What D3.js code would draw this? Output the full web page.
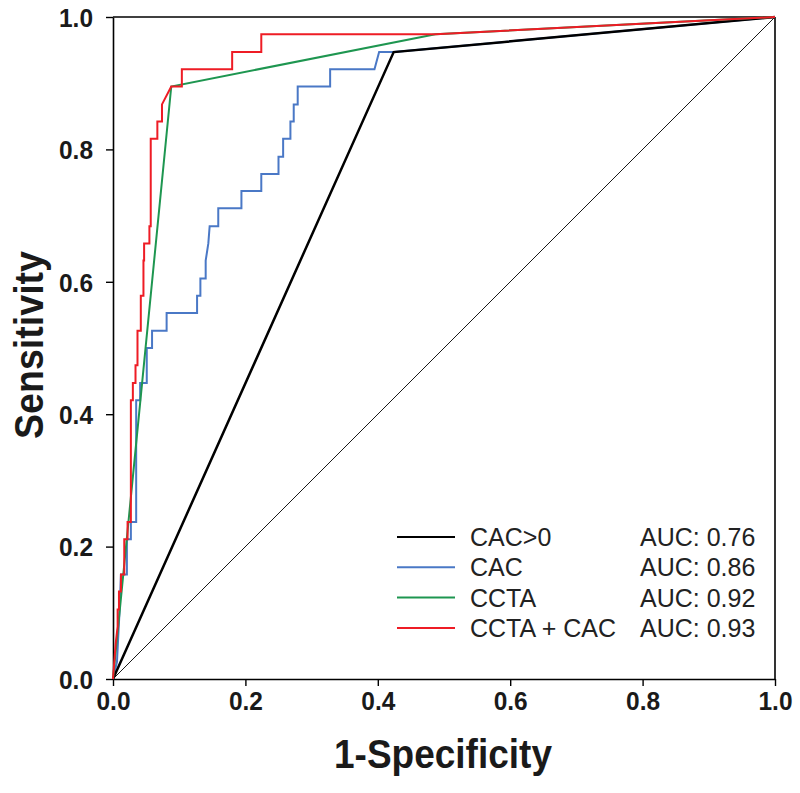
<!DOCTYPE html>
<html><head><meta charset="utf-8">
<script src="https://cdn.jsdelivr.net/npm/d3@7"></script>
<style>body{margin:0;background:#fff}svg{display:block}</style>
</head><body>
<svg id="c" width="800" height="793"></svg>
<script>
const seriesNames = ["CAC>0", "CAC", "CCTA", "CCTA + CAC"];
const aucLabels = ["AUC: 0.76", "AUC: 0.86", "AUC: 0.92", "AUC: 0.93"];
const seriesColors = ["#000000", "#4a78c6", "#1e9650", "#ee1c25"];
const xTicks = [0, 0.2, 0.4, 0.6, 0.8, 1.0];
const yTicks = [0, 0.2, 0.4, 0.6, 0.8, 1.0];

const cac0FPR = [0, 0.424, 1];
const cac0TPR = [0, 0.947, 1];

const cacFPR = [0, 0.006, 0.010, 0.012, 0.021, 0.021, 0.027, 0.027, 0.035, 0.035, 0.041, 0.041, 0.051, 0.051, 0.059, 0.059, 0.081, 0.081, 0.127, 0.127, 0.132, 0.132, 0.140, 0.140, 0.144, 0.146, 0.159, 0.159, 0.194, 0.194, 0.224, 0.224, 0.250, 0.250, 0.257, 0.257, 0.268, 0.268, 0.273, 0.273, 0.279, 0.279, 0.328, 0.328, 0.395, 0.402, 0.424, 1];
const cacTPR = [0, 0.026, 0.105, 0.158, 0.158, 0.211, 0.211, 0.237, 0.237, 0.421, 0.421, 0.447, 0.447, 0.500, 0.500, 0.526, 0.526, 0.553, 0.553, 0.579, 0.579, 0.605, 0.605, 0.632, 0.658, 0.684, 0.684, 0.711, 0.711, 0.737, 0.737, 0.763, 0.763, 0.789, 0.789, 0.816, 0.816, 0.842, 0.842, 0.868, 0.868, 0.895, 0.895, 0.921, 0.921, 0.947, 0.947, 1];

const cctaFPR = [0, 0.088, 0.487, 1];
const cctaTPR = [0, 0.895, 0.974, 1];

const comboFPR = [0, 0.004, 0.007, 0.007, 0.009, 0.009, 0.012, 0.012, 0.017, 0.017, 0.022, 0.022, 0.027, 0.027, 0.030, 0.030, 0.034, 0.034, 0.037, 0.037, 0.042, 0.042, 0.046, 0.046, 0.047, 0.047, 0.055, 0.055, 0.057, 0.057, 0.067, 0.067, 0.074, 0.074, 0.088, 0.104, 0.104, 0.180, 0.180, 0.224, 0.224, 0.487, 1];
const comboTPR = [0, 0.053, 0.079, 0.105, 0.105, 0.132, 0.132, 0.158, 0.158, 0.211, 0.211, 0.237, 0.237, 0.421, 0.421, 0.447, 0.447, 0.474, 0.474, 0.526, 0.526, 0.579, 0.579, 0.632, 0.632, 0.658, 0.658, 0.684, 0.684, 0.816, 0.816, 0.842, 0.842, 0.868, 0.895, 0.895, 0.921, 0.921, 0.947, 0.947, 0.974, 0.974, 1];

const svg = d3.select("#c");
const x = d3.scaleLinear().domain([0, 1]).range([113, 775]);
const y = d3.scaleLinear().domain([0, 1]).range([679, 17]);

// axes
const fmt = d3.format(".1f");
const xAxis = svg.append("g").attr("transform", "translate(0,679)")
  .call(d3.axisBottom(x).tickValues(xTicks).tickFormat(fmt).tickSize(7).tickSizeOuter(0));
const yAxis = svg.append("g").attr("transform", "translate(113,0)")
  .call(d3.axisLeft(y).tickValues(yTicks).tickFormat(fmt).tickSize(7).tickSizeOuter(0));
[xAxis, yAxis].forEach(a => {
  a.select(".domain").attr("stroke", "#000").attr("stroke-width", 1.6);
  a.selectAll(".tick line").attr("stroke", "#000").attr("stroke-width", 1.4);
  a.selectAll(".tick text").attr("fill", "#1a1a1a")
    .attr("font-family", "Liberation Sans, Arial, sans-serif")
    .attr("font-weight", "bold").attr("font-size", 26)
    .attr("textLength", 34).attr("lengthAdjust", "spacingAndGlyphs");
});
xAxis.selectAll(".tick text").attr("dy", null).attr("y", 31);
yAxis.selectAll(".tick text").attr("x", -20).attr("dy", "0.36em");

// frame top/right
svg.append("line").attr("x1", x(0)).attr("x2", x(1)).attr("y1", y(1)).attr("y2", y(1))
  .attr("stroke", "#000").attr("stroke-width", 1.6);
svg.append("line").attr("x1", x(1)).attr("x2", x(1)).attr("y1", y(1)).attr("y2", y(0))
  .attr("stroke", "#000").attr("stroke-width", 1.6);

// reference diagonal
svg.append("line").attr("x1", x(0)).attr("y1", y(0)).attr("x2", x(1)).attr("y2", y(1))
  .attr("stroke", "#000").attr("stroke-width", 0.9);

const line = d3.line().x(d => x(d[0])).y(d => y(d[1]));
const zip = (a, b) => a.map((v, i) => [v, b[i]]);
const curves = [
  {pts: zip(cacFPR, cacTPR), c: seriesColors[1], w: 2},
  {pts: zip(cac0FPR, cac0TPR), c: seriesColors[0], w: 2.5},
  {pts: zip(cctaFPR, cctaTPR), c: seriesColors[2], w: 2},
  {pts: zip(comboFPR, comboTPR), c: seriesColors[3], w: 2}
];
curves.forEach(k => {
  svg.append("path").attr("d", line(k.pts)).attr("fill", "none")
    .attr("stroke", k.c).attr("stroke-width", k.w).attr("stroke-linejoin", "miter");
});

// legend
const lg = svg.append("g");
seriesNames.forEach((n, i) => {
  const by = 546 + i * 30.3;
  lg.append("line").attr("x1", 397).attr("x2", 455).attr("y1", by - 9).attr("y2", by - 9)
    .attr("stroke", seriesColors[i]).attr("stroke-width", 2);
  lg.append("text").attr("x", 470).attr("y", by).text(n)
    .attr("font-family", "Liberation Sans, Arial, sans-serif").attr("font-size", 25).attr("fill", "#222");
  lg.append("text").attr("x", 640).attr("y", by).text(aucLabels[i])
    .attr("font-family", "Liberation Sans, Arial, sans-serif").attr("font-size", 25).attr("fill", "#222");
});

// axis titles
svg.append("text").attr("x", 443).attr("y", 768).attr("text-anchor", "middle")
  .attr("font-family", "Liberation Sans, Arial, sans-serif").attr("font-weight", "bold")
  .attr("font-size", 40).attr("fill", "#1a1a1a")
  .attr("textLength", 218).attr("lengthAdjust", "spacingAndGlyphs").text("1-Specificity");
svg.append("text").attr("transform", "translate(43,345) rotate(-90)").attr("text-anchor", "middle")
  .attr("font-family", "Liberation Sans, Arial, sans-serif").attr("font-weight", "bold")
  .attr("font-size", 40).attr("fill", "#1a1a1a")
  .attr("textLength", 188).attr("lengthAdjust", "spacingAndGlyphs").text("Sensitivity");
</script>
</body></html>
